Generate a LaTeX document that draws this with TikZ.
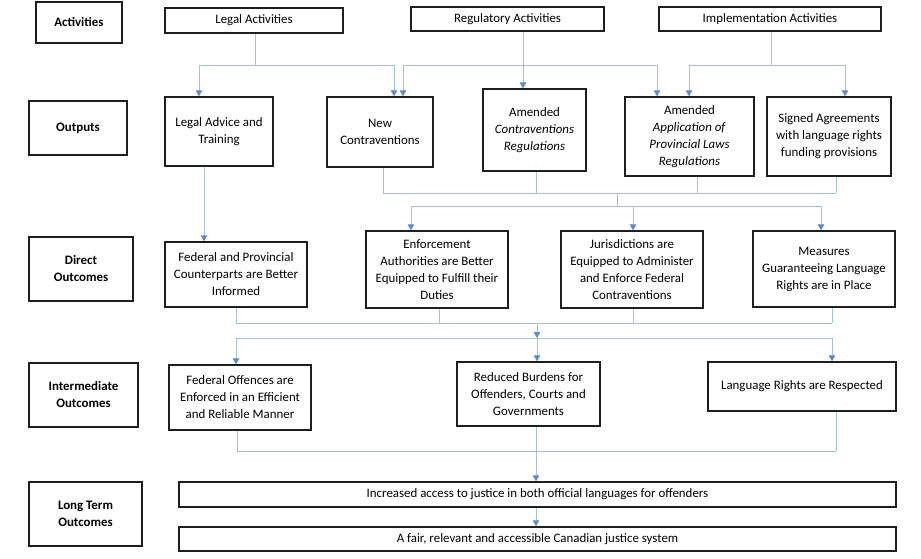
\documentclass[tikz,border=0pt]{standalone}
\usepackage{fontspec}
\setmainfont{Carlito}
\usetikzlibrary{arrows.meta}
\definecolor{linkblue}{RGB}{160,192,228}
\definecolor{tipblue}{RGB}{88,140,204}
\definecolor{boxline}{RGB}{30,30,30}
\begin{document}
\begin{tikzpicture}[x=1pt,y=-1pt,
  box/.style={draw=boxline, line width=1.3pt, align=center, inner sep=0pt,
    font=\fontsize{12.9}{17}\selectfont},
  lbl/.style={box, font=\fontsize{12.9}{17}\selectfont\bfseries},
  conn/.style={draw=linkblue, line width=0.9pt},
  arr/.style={conn, -{Triangle[width=6.5pt,length=6pt,color=tipblue]}}]
\useasboundingbox (0,0) rectangle (921,559);

% row labels
\node[lbl, minimum width=86pt, minimum height=41pt] (lAct) at (79,22.5) {Activities};
\node[lbl, minimum width=98pt, minimum height=54pt] (lOut) at (78,128) {Outputs};
\node[lbl, minimum width=104pt, minimum height=64pt] (lDir) at (81,269) {Direct\\Outcomes};
\node[lbl, minimum width=109pt, minimum height=64pt] (lInt) at (83.5,395) {Intermediate\\Outcomes};
\node[lbl, minimum width=113pt, minimum height=64pt] (lLong) at (85.5,514) {Long Term\\Outcomes};

% activities
\node[box, minimum width=178pt, minimum height=25pt] (legAct) at (254,20.5) {Legal Activities};
\node[box, minimum width=193pt, minimum height=24pt] (regAct) at (507.5,19) {Regulatory Activities};
\node[box, minimum width=222pt, minimum height=24pt] (impAct) at (770,19) {Implementation Activities};

% outputs
\node[box, minimum width=108pt, minimum height=69pt] (legAdv) at (219,131.5) {Legal Advice and\\Training};
\node[box, minimum width=106pt, minimum height=70pt] (newCon) at (380,132) {New\\Contraventions};
\node[box, minimum width=103pt, minimum height=82pt] (amCon) at (534.5,130) {Amended\\\textit{Contraventions}\\\textit{Regulations}};
\node[box, minimum width=129pt, minimum height=79pt] (amApp) at (689.5,136.5) {Amended\\\textit{Application of}\\\textit{Provincial Laws}\\\textit{Regulations}};
\node[box, minimum width=124pt, minimum height=79pt] (signed) at (829,136.5) {Signed Agreements\\with language rights\\funding provisions};

% direct outcomes
\node[box, minimum width=142pt, minimum height=65pt] (fedProv) at (236,274.5) {Federal and Provincial\\Counterparts are Better\\Informed};
\node[box, minimum width=142pt, minimum height=77pt] (enforce) at (437,269.5) {Enforcement\\Authorities are Better\\Equipped to Fulfill their\\Duties};
\node[box, minimum width=142pt, minimum height=77pt] (juris) at (632,269.5) {Jurisdictions are\\Equipped to Administer\\and Enforce Federal\\Contraventions};
\node[box, minimum width=142pt, minimum height=76pt] (measures) at (824,269) {Measures\\Guaranteeing Language\\Rights are in Place};

% intermediate outcomes
\node[box, minimum width=142pt, minimum height=65pt] (fedOff) at (240,397.5) {Federal Offences are\\Enforced in an Efficient\\and Reliable Manner};
\node[box, minimum width=143pt, minimum height=64pt] (reduced) at (528.5,394) {Reduced Burdens for\\Offenders, Courts and\\Governments};
\node[box, minimum width=188pt, minimum height=49pt] (langRights) at (802,386.5) {Language Rights are Respected};

% long term outcomes
\node[box, minimum width=717pt, minimum height=25pt] (access) at (537.5,494.5) {Increased access to justice in both official languages for offenders};
\node[box, minimum width=717pt, minimum height=24pt] (fair) at (537.5,539) {A fair, relevant and accessible Canadian justice system};

% ---- activities -> outputs
\coordinate (a1) at (199,65);
\coordinate (a2) at (394,65);
\coordinate (a3) at (255,65);
\draw[conn] (legAct.south -| a3) -- (a3);
\draw[conn] (a1) -- (a2);
\draw[arr] (a1) -- (a1 |- legAdv.north);
\draw[arr] (a2) -- (a2 |- newCon.north);

\coordinate (r1) at (403,65);
\coordinate (r2) at (523,65);
\coordinate (r3) at (657,65);
\draw[conn] (r1) -- (r3);
\draw[arr] (regAct.south -| r2) -- (r2 |- amCon.north);
\draw[arr] (r1) -- (r1 |- newCon.north);
\draw[arr] (r3) -- (r3 |- amApp.north);

\coordinate (i1) at (689,65);
\coordinate (i2) at (771,65);
\coordinate (i3) at (845,65);
\draw[conn] (impAct.south -| i2) -- (i2);
\draw[conn] (i1) -- (i3);
\draw[arr] (i1) -- (i1 |- amApp.north);
\draw[arr] (i3) -- (i3 |- signed.north);

% ---- outputs -> direct outcomes
\coordinate (o1) at (204,200);
\draw[arr] (legAdv.south -| o1) -- (o1 |- fedProv.north);

\coordinate (b1) at (383,193);
\coordinate (b2) at (536,193);
\coordinate (b3) at (697,193);
\coordinate (b4) at (836,193);
\coordinate (b5) at (617,193);
\draw[conn] (newCon.south -| b1) -- (b1);
\draw[conn] (amCon.south -| b2) -- (b2);
\draw[conn] (amApp.south -| b3) -- (b3);
\draw[conn] (signed.south -| b4) -- (b4);
\draw[conn] (b1) -- (b4);
\coordinate (c1) at (411,206);
\coordinate (c2) at (617,206);
\coordinate (c3) at (633,206);
\coordinate (c4) at (821,206);
\draw[conn] (b5) -- (c2);
\draw[conn] (c1) -- (c4);
\draw[arr] (c1) -- (c1 |- enforce.north);
\draw[arr] (c3) -- (c3 |- juris.north);
\draw[arr] (c4) -- (c4 |- measures.north);

% ---- direct -> intermediate
\coordinate (d1) at (236,323);
\coordinate (d2) at (439,323);
\coordinate (d3) at (633,323);
\coordinate (d4) at (832,323);
\coordinate (d5) at (537,323);
\draw[conn] (fedProv.south -| d1) -- (d1);
\draw[conn] (enforce.south -| d2) -- (d2);
\draw[conn] (juris.south -| d3) -- (d3);
\draw[conn] (measures.south -| d4) -- (d4);
\draw[conn] (d1) -- (d4);
\coordinate (e1) at (236,338);
\coordinate (e2) at (537,338);
\coordinate (e3) at (832,338);
\draw[arr] (d5) -- (e2);
\draw[conn] (e1) -- (e3);
\draw[arr] (e1) -- (e1 |- fedOff.north);
\draw[arr] (e2) -- (e2 |- reduced.north);
\draw[arr] (e3) -- (e3 |- langRights.north);

% ---- intermediate -> long term
\coordinate (f1) at (237,451);
\coordinate (f2) at (836,451);
\coordinate (f3) at (536,451);
\draw[conn] (fedOff.south -| f1) -- (f1);
\draw[conn] (langRights.south -| f2) -- (f2);
\draw[conn] (f1) -- (f2);
\draw[arr] (reduced.south -| f3) -- (f3 |- access.north);
\draw[arr] (access.south -| f3) -- (f3 |- fair.north);
\end{tikzpicture}
\end{document}
